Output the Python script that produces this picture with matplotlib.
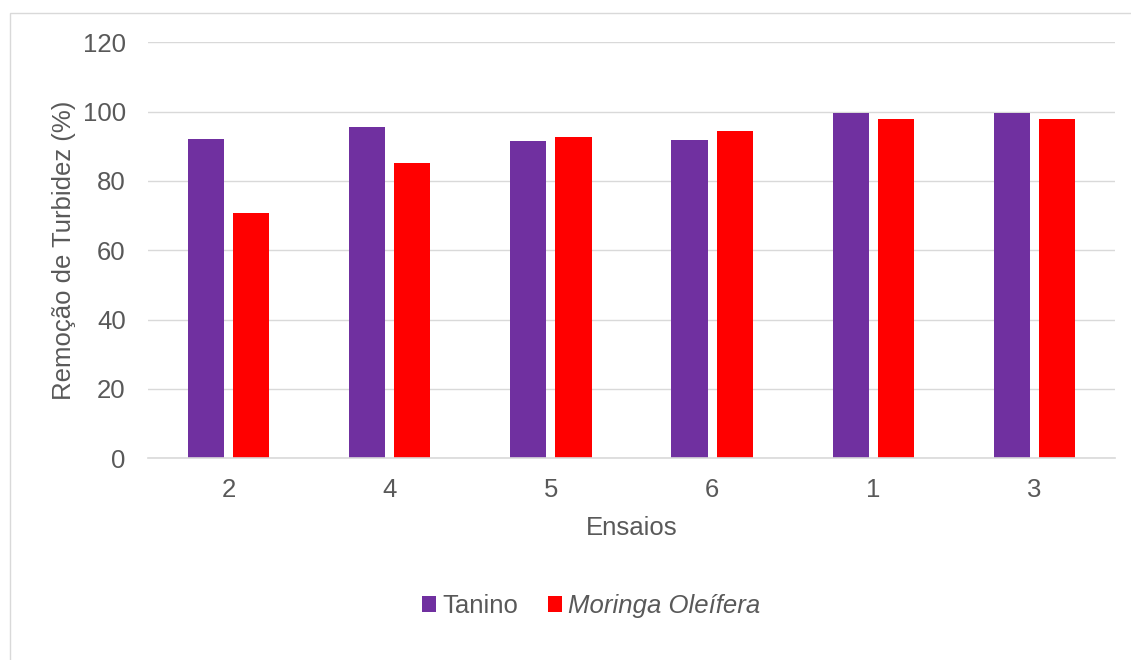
import matplotlib
matplotlib.use("Agg")
import matplotlib.pyplot as plt
from matplotlib.patches import Rectangle
import numpy as np

plt.rcParams['font.family'] = ['Liberation Sans', 'DejaVu Sans']

ensaios = ["2", "4", "5", "6", "1", "3"]
tanino = [92.1, 95.6, 91.5, 91.8, 99.6, 99.6]
moringa = [70.8, 85.2, 92.6, 94.3, 98.0, 97.9]
y_ticks = [0, 20, 40, 60, 80, 100, 120]

TEXT = "#595959"
GRID = "#d9d9d9"

W, H = 1131, 660
fig = plt.figure(figsize=(W / 100, H / 100), dpi=100)
ax = fig.add_axes([148 / W, 1 - 458.3 / H, (1115 - 148) / W, (458.3 - 42.3) / H])

x = np.arange(len(ensaios))
bw = 0.224
off = bw / 2 + 0.028
ax.bar(x - off, tanino, bw, color="#7030A0", zorder=3, label="Tanino")
ax.bar(x + off, moringa, bw, color="#FF0000", zorder=3, label="Moringa Oleífera")

ax.set_xlim(-0.5, len(ensaios) - 0.5)
ax.set_ylim(0, 120)
ax.set_yticks(y_ticks)
ax.set_xticks(x)
ax.set_xticklabels(ensaios)
ax.yaxis.grid(True, color=GRID, linewidth=1.0, zorder=0)
ax.set_axisbelow(True)
for s in ["top", "right", "left"]:
    ax.spines[s].set_visible(False)
ax.spines["bottom"].set_color(GRID)
ax.spines["bottom"].set_linewidth(1.2)
ax.spines["bottom"].set_zorder(4)
ax.tick_params(axis="both", length=0, labelsize=18.5, labelcolor=TEXT)
ax.tick_params(axis="y", pad=16)
ax.tick_params(axis="x", pad=14)

ax.set_xlabel("Ensaios", fontsize=18.5, color=TEXT, labelpad=10)
ax.set_ylabel("Remoção de Turbidez (%)", fontsize=18.5, color=TEXT, labelpad=5)

leg = fig.legend(loc="center", bbox_to_anchor=(591 / W, 1 - 606 / H), ncol=2,
                 frameon=False, fontsize=18.5, handlelength=0.55, handleheight=0.55,
                 handletextpad=0.25, columnspacing=1.15, labelcolor=TEXT)
leg.get_texts()[1].set_fontstyle("italic")

# chart-area border
fig.add_artist(Rectangle((9.5 / W, -0.05), 1.1, 1 - 12.7 / H + 0.05,
                         transform=fig.transFigure, fill=False,
                         edgecolor=GRID, linewidth=1.0))

fig.savefig("out.png", dpi=100)
